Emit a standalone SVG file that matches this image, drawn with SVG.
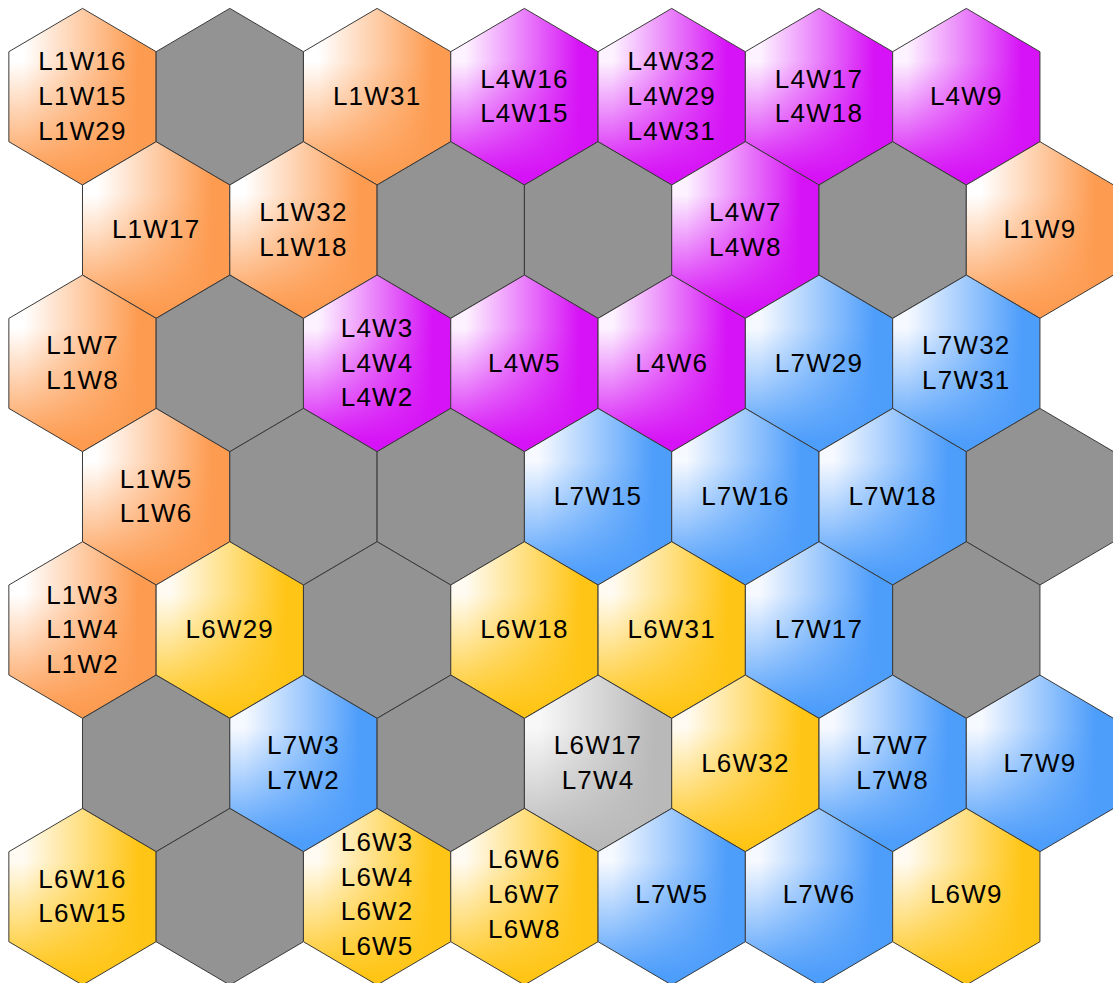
<svg xmlns="http://www.w3.org/2000/svg" width="1113" height="983" viewBox="0 0 1113 983">
<defs>
<linearGradient id="hO" x1="0" y1="0" x2="1" y2="0"><stop offset="0.1" stop-color="#ffffff"/><stop offset="0.88" stop-color="#fd9b50"/></linearGradient>
<linearGradient id="vO" x1="0" y1="0" x2="0" y2="1"><stop offset="0.3" stop-color="#fd9b50" stop-opacity="0"/><stop offset="0.95" stop-color="#fd9b50" stop-opacity="1"/></linearGradient>
<linearGradient id="hP" x1="0" y1="0" x2="1" y2="0"><stop offset="0.1" stop-color="#fdf2ff"/><stop offset="0.88" stop-color="#d612f6"/></linearGradient>
<linearGradient id="vP" x1="0" y1="0" x2="0" y2="1"><stop offset="0.3" stop-color="#d612f6" stop-opacity="0"/><stop offset="0.95" stop-color="#d612f6" stop-opacity="1"/></linearGradient>
<linearGradient id="hB" x1="0" y1="0" x2="1" y2="0"><stop offset="0.1" stop-color="#f6f9ff"/><stop offset="0.88" stop-color="#4d9dfb"/></linearGradient>
<linearGradient id="vB" x1="0" y1="0" x2="0" y2="1"><stop offset="0.3" stop-color="#4d9dfb" stop-opacity="0"/><stop offset="0.95" stop-color="#4d9dfb" stop-opacity="1"/></linearGradient>
<linearGradient id="hY" x1="0" y1="0" x2="1" y2="0"><stop offset="0.1" stop-color="#fffbf2"/><stop offset="0.88" stop-color="#ffc516"/></linearGradient>
<linearGradient id="vY" x1="0" y1="0" x2="0" y2="1"><stop offset="0.3" stop-color="#ffc516" stop-opacity="0"/><stop offset="0.95" stop-color="#ffc516" stop-opacity="1"/></linearGradient>
<linearGradient id="hL" x1="0" y1="0" x2="1" y2="0"><stop offset="0.1" stop-color="#f8f8f8"/><stop offset="0.88" stop-color="#b9b9b9"/></linearGradient>
<linearGradient id="vL" x1="0" y1="0" x2="0" y2="1"><stop offset="0.3" stop-color="#b9b9b9" stop-opacity="0"/><stop offset="0.95" stop-color="#b9b9b9" stop-opacity="1"/></linearGradient>
<polygon id="hex" points="0,-88.3 73.65,-45 73.65,45 0,88.3 -73.65,45 -73.65,-45"/>
</defs>
<style>
use{stroke:none}
use.s{stroke:#3a3a3a;stroke-width:1}
.o{fill:url(#hO)}.o2{fill:url(#vO)}
.p{fill:url(#hP)}.p2{fill:url(#vP)}
.b{fill:url(#hB)}.b2{fill:url(#vB)}
.y{fill:url(#hY)}.y2{fill:url(#vY)}
.l{fill:url(#hL)}.l2{fill:url(#vL)}
.g{fill:#939393}
text{font-family:"Liberation Sans",Arial,sans-serif;font-size:26px;letter-spacing:1.2px;fill:#000;text-anchor:middle}
</style>
<rect width="1113" height="983" fill="#ffffff"/>
<g id="connectors"/>
<!-- Row 0 -->
<g id="r0c0" transform="translate(82.5,96.7)"><use href="#hex" class="o"/><use href="#hex" class="o2 s"/><text><tspan x="0" y="-26.4">L1W16</tspan><tspan x="0" y="8.3">L1W15</tspan><tspan x="0" y="43">L1W29</tspan></text></g>
<g id="r0c1" transform="translate(229.8,96.7)"><use href="#hex" class="g s"/></g>
<g id="r0c2" transform="translate(377.1,96.7)"><use href="#hex" class="o"/><use href="#hex" class="o2 s"/><text><tspan x="0" y="8.3">L1W31</tspan></text></g>
<g id="r0c3" transform="translate(524.4,96.7)"><use href="#hex" class="p"/><use href="#hex" class="p2 s"/><text><tspan x="0" y="-9.05">L4W16</tspan><tspan x="0" y="25.65">L4W15</tspan></text></g>
<g id="r0c4" transform="translate(671.7,96.7)"><use href="#hex" class="p"/><use href="#hex" class="p2 s"/><text><tspan x="0" y="-26.4">L4W32</tspan><tspan x="0" y="8.3">L4W29</tspan><tspan x="0" y="43">L4W31</tspan></text></g>
<g id="r0c5" transform="translate(819,96.7)"><use href="#hex" class="p"/><use href="#hex" class="p2 s"/><text><tspan x="0" y="-9.05">L4W17</tspan><tspan x="0" y="25.65">L4W18</tspan></text></g>
<g id="r0c6" transform="translate(966.3,96.7)"><use href="#hex" class="p"/><use href="#hex" class="p2 s"/><text><tspan x="0" y="8.3">L4W9</tspan></text></g>
<!-- Row 1 -->
<g id="r1c0" transform="translate(156.15,230)"><use href="#hex" class="o"/><use href="#hex" class="o2 s"/><text><tspan x="0" y="8.3">L1W17</tspan></text></g>
<g id="r1c1" transform="translate(303.45,230)"><use href="#hex" class="o"/><use href="#hex" class="o2 s"/><text><tspan x="0" y="-9.05">L1W32</tspan><tspan x="0" y="25.65">L1W18</tspan></text></g>
<g id="r1c2" transform="translate(450.75,230)"><use href="#hex" class="g s"/></g>
<g id="r1c3" transform="translate(598.05,230)"><use href="#hex" class="g s"/></g>
<g id="r1c4" transform="translate(745.35,230)"><use href="#hex" class="p"/><use href="#hex" class="p2 s"/><text><tspan x="0" y="-9.05">L4W7</tspan><tspan x="0" y="25.65">L4W8</tspan></text></g>
<g id="r1c5" transform="translate(892.65,230)"><use href="#hex" class="g s"/></g>
<g id="r1c6" transform="translate(1039.95,230)"><use href="#hex" class="o"/><use href="#hex" class="o2 s"/><text><tspan x="0" y="8.3">L1W9</tspan></text></g>
<!-- Row 2 -->
<g id="r2c0" transform="translate(82.5,363.4)"><use href="#hex" class="o"/><use href="#hex" class="o2 s"/><text><tspan x="0" y="-9.05">L1W7</tspan><tspan x="0" y="25.65">L1W8</tspan></text></g>
<g id="r2c1" transform="translate(229.8,363.4)"><use href="#hex" class="g s"/></g>
<g id="r2c2" transform="translate(377.1,363.4)"><use href="#hex" class="p"/><use href="#hex" class="p2 s"/><text><tspan x="0" y="-26.4">L4W3</tspan><tspan x="0" y="8.3">L4W4</tspan><tspan x="0" y="43">L4W2</tspan></text></g>
<g id="r2c3" transform="translate(524.4,363.4)"><use href="#hex" class="p"/><use href="#hex" class="p2 s"/><text><tspan x="0" y="8.3">L4W5</tspan></text></g>
<g id="r2c4" transform="translate(671.7,363.4)"><use href="#hex" class="p"/><use href="#hex" class="p2 s"/><text><tspan x="0" y="8.3">L4W6</tspan></text></g>
<g id="r2c5" transform="translate(819,363.4)"><use href="#hex" class="b"/><use href="#hex" class="b2 s"/><text><tspan x="0" y="8.3">L7W29</tspan></text></g>
<g id="r2c6" transform="translate(966.3,363.4)"><use href="#hex" class="b"/><use href="#hex" class="b2 s"/><text><tspan x="0" y="-9.05">L7W32</tspan><tspan x="0" y="25.65">L7W31</tspan></text></g>
<!-- Row 3 -->
<g id="r3c0" transform="translate(156.15,496.7)"><use href="#hex" class="o"/><use href="#hex" class="o2 s"/><text><tspan x="0" y="-9.05">L1W5</tspan><tspan x="0" y="25.65">L1W6</tspan></text></g>
<g id="r3c1" transform="translate(303.45,496.7)"><use href="#hex" class="g s"/></g>
<g id="r3c2" transform="translate(450.75,496.7)"><use href="#hex" class="g s"/></g>
<g id="r3c3" transform="translate(598.05,496.7)"><use href="#hex" class="b"/><use href="#hex" class="b2 s"/><text><tspan x="0" y="8.3">L7W15</tspan></text></g>
<g id="r3c4" transform="translate(745.35,496.7)"><use href="#hex" class="b"/><use href="#hex" class="b2 s"/><text><tspan x="0" y="8.3">L7W16</tspan></text></g>
<g id="r3c5" transform="translate(892.65,496.7)"><use href="#hex" class="b"/><use href="#hex" class="b2 s"/><text><tspan x="0" y="8.3">L7W18</tspan></text></g>
<g id="r3c6" transform="translate(1039.95,496.7)"><use href="#hex" class="g s"/></g>
<!-- Row 4 -->
<g id="r4c0" transform="translate(82.5,630)"><use href="#hex" class="o"/><use href="#hex" class="o2 s"/><text><tspan x="0" y="-26.4">L1W3</tspan><tspan x="0" y="8.3">L1W4</tspan><tspan x="0" y="43">L1W2</tspan></text></g>
<g id="r4c1" transform="translate(229.8,630)"><use href="#hex" class="y"/><use href="#hex" class="y2 s"/><text><tspan x="0" y="8.3">L6W29</tspan></text></g>
<g id="r4c2" transform="translate(377.1,630)"><use href="#hex" class="g s"/></g>
<g id="r4c3" transform="translate(524.4,630)"><use href="#hex" class="y"/><use href="#hex" class="y2 s"/><text><tspan x="0" y="8.3">L6W18</tspan></text></g>
<g id="r4c4" transform="translate(671.7,630)"><use href="#hex" class="y"/><use href="#hex" class="y2 s"/><text><tspan x="0" y="8.3">L6W31</tspan></text></g>
<g id="r4c5" transform="translate(819,630)"><use href="#hex" class="b"/><use href="#hex" class="b2 s"/><text><tspan x="0" y="8.3">L7W17</tspan></text></g>
<g id="r4c6" transform="translate(966.3,630)"><use href="#hex" class="g s"/></g>
<!-- Row 5 -->
<g id="r5c0" transform="translate(156.15,763.4)"><use href="#hex" class="g s"/></g>
<g id="r5c1" transform="translate(303.45,763.4)"><use href="#hex" class="b"/><use href="#hex" class="b2 s"/><text><tspan x="0" y="-9.05">L7W3</tspan><tspan x="0" y="25.65">L7W2</tspan></text></g>
<g id="r5c2" transform="translate(450.75,763.4)"><use href="#hex" class="g s"/></g>
<g id="r5c3" transform="translate(598.05,763.4)"><use href="#hex" class="l"/><use href="#hex" class="l2 s"/><text><tspan x="0" y="-9.05">L6W17</tspan><tspan x="0" y="25.65">L7W4</tspan></text></g>
<g id="r5c4" transform="translate(745.35,763.4)"><use href="#hex" class="y"/><use href="#hex" class="y2 s"/><text><tspan x="0" y="8.3">L6W32</tspan></text></g>
<g id="r5c5" transform="translate(892.65,763.4)"><use href="#hex" class="b"/><use href="#hex" class="b2 s"/><text><tspan x="0" y="-9.05">L7W7</tspan><tspan x="0" y="25.65">L7W8</tspan></text></g>
<g id="r5c6" transform="translate(1039.95,763.4)"><use href="#hex" class="b"/><use href="#hex" class="b2 s"/><text><tspan x="0" y="8.3">L7W9</tspan></text></g>
<!-- Row 6 -->
<g id="r6c0" transform="translate(82.5,896.7)"><use href="#hex" class="y"/><use href="#hex" class="y2 s"/><text><tspan x="0" y="-9.05">L6W16</tspan><tspan x="0" y="25.65">L6W15</tspan></text></g>
<g id="r6c1" transform="translate(229.8,896.7)"><use href="#hex" class="g s"/></g>
<g id="r6c2" transform="translate(377.1,896.7)"><use href="#hex" class="y"/><use href="#hex" class="y2 s"/><text><tspan x="0" y="-45.75">L6W3</tspan><tspan x="0" y="-11.05">L6W4</tspan><tspan x="0" y="23.65">L6W2</tspan><tspan x="0" y="58.35">L6W5</tspan></text></g>
<g id="r6c3" transform="translate(524.4,896.7)"><use href="#hex" class="y"/><use href="#hex" class="y2 s"/><text><tspan x="0" y="-28.4">L6W6</tspan><tspan x="0" y="6.3">L6W7</tspan><tspan x="0" y="41">L6W8</tspan></text></g>
<g id="r6c4" transform="translate(671.7,896.7)"><use href="#hex" class="b"/><use href="#hex" class="b2 s"/><text><tspan x="0" y="6.3">L7W5</tspan></text></g>
<g id="r6c5" transform="translate(819,896.7)"><use href="#hex" class="b"/><use href="#hex" class="b2 s"/><text><tspan x="0" y="6.3">L7W6</tspan></text></g>
<g id="r6c6" transform="translate(966.3,896.7)"><use href="#hex" class="y"/><use href="#hex" class="y2 s"/><text><tspan x="0" y="6.3">L6W9</tspan></text></g>
</svg>
